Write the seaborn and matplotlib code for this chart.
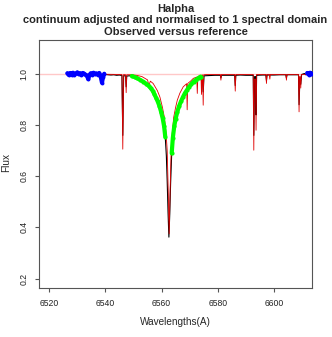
import numpy as np
import pandas as pd
from matplotlib import pyplot as plt
import seaborn as sns

# observed spectrum (black)
obs_wave = [6526.5, 6527.0, 6527.5, 6528.0, 6528.5, 6529.0, 6529.5, 6530.0, 6530.5, 6531.0,
            6531.5, 6532.0, 6532.5, 6533.0, 6533.5, 6533.9, 6534.3, 6534.8, 6535.3, 6535.8,
            6536.3, 6536.8, 6537.3, 6537.8, 6538.3, 6538.8, 6539.2, 6539.6, 6540.2, 6541.0,
            6542.0, 6543.0, 6544.0, 6545.0, 6545.9, 6546.2, 6546.5, 6547.2, 6547.4, 6547.6,
            6548.5, 6549.4, 6550.4, 6551.4, 6552.4, 6553.5, 6554.5, 6555.4, 6556.1, 6556.8,
            6557.4, 6558.0, 6558.6, 6559.2, 6559.8, 6560.4, 6560.9, 6561.3, 6561.7, 6562.0,
            6562.3, 6562.6, 6562.9, 6563.2, 6563.6, 6564.0, 6564.5, 6565.0, 6565.6, 6566.2,
            6566.9, 6567.6, 6568.3, 6569.0, 6569.8, 6570.6, 6571.4, 6572.3, 6573.2, 6573.9,
            6574.5, 6574.8, 6575.1, 6577.0, 6579.0, 6580.9, 6581.1, 6581.3, 6583.0, 6586.0,
            6586.2, 6586.4, 6588.0, 6590.0, 6592.6, 6592.8, 6593.1, 6593.4, 6593.6, 6593.8,
            6596.0, 6597.1, 6597.3, 6597.5, 6600.0, 6602.0, 6604.2, 6604.4, 6604.6, 6606.0,
            6608.7, 6608.9, 6609.2, 6609.5, 6609.8, 6610.8, 6611.3, 6611.8, 6612.3, 6612.8,
            6613.3, 6613.8, 6614.3, 6615.0]
obs_flux = [1.003, 0.996, 1.004, 0.998, 1.005, 0.997, 1.002, 1.006, 0.999, 1.003,
            0.996, 1.004, 1.001, 0.997, 0.993, 0.980, 0.995, 1.003, 0.998, 1.005,
            0.999, 1.002, 0.997, 1.004, 0.992, 0.966, 0.990, 1.001, 0.998, 0.997,
            0.996, 0.997, 0.995, 0.996, 0.994, 0.760, 0.993, 0.993, 0.950, 0.992,
            0.993, 0.992, 0.988, 0.983, 0.977, 0.970, 0.962, 0.954, 0.945, 0.935,
            0.922, 0.908, 0.893, 0.876, 0.853, 0.826, 0.795, 0.755, 0.680, 0.580,
            0.460, 0.362, 0.450, 0.570, 0.690, 0.750, 0.795, 0.825, 0.852, 0.874,
            0.893, 0.910, 0.925, 0.937, 0.950, 0.961, 0.970, 0.978, 0.985, 0.990,
            0.992, 0.930, 0.993, 0.994, 0.995, 0.995, 0.985, 0.995, 0.995, 0.995,
            0.955, 0.995, 0.996, 0.995, 0.995, 0.760, 0.990, 0.990, 0.840, 0.995,
            0.996, 0.996, 0.975, 0.996, 0.996, 0.997, 0.997, 0.985, 0.997, 0.997,
            0.997, 0.880, 0.985, 0.960, 0.998, 1.002, 0.997, 1.004, 0.998, 1.005,
            0.999, 1.003, 0.997, 1.002]

# reference spectrum (red)
ref_wave = [6526.5, 6540.0, 6545.9, 6546.2, 6546.5, 6547.2, 6547.4, 6547.6, 6549.0, 6551.0,
            6553.0, 6555.0, 6555.5, 6556.0, 6557.0, 6558.5, 6559.4, 6560.3, 6561.0, 6561.6,
            6562.0, 6562.35, 6562.7, 6563.05, 6563.4, 6563.8, 6564.3, 6565.0, 6565.6, 6566.5,
            6567.7, 6568.9, 6569.1, 6569.3, 6570.3, 6571.3, 6572.5, 6572.7, 6572.9, 6573.6,
            6574.0, 6574.2, 6574.4, 6574.6, 6574.8, 6575.0, 6576.0, 6580.9, 6581.1, 6581.3,
            6586.0, 6586.2, 6586.4, 6592.6, 6592.8, 6593.0, 6593.4, 6593.6, 6593.8, 6597.1,
            6597.3, 6597.5, 6598.3, 6598.5, 6598.7, 6604.2, 6604.4, 6604.6, 6608.7, 6608.9,
            6609.1, 6609.3, 6609.5, 6609.7, 6616.0]
ref_flux = [1.000, 0.999, 0.998, 0.706, 0.998, 0.997, 0.927, 0.997, 0.997, 0.995,
            0.990, 0.977, 0.955, 0.972, 0.963, 0.935, 0.910, 0.870, 0.830, 0.770,
            0.700, 0.550, 0.375, 0.550, 0.700, 0.770, 0.830, 0.870, 0.898, 0.925,
            0.950, 0.962, 0.860, 0.963, 0.972, 0.983, 0.988, 0.924, 0.990, 0.993,
            0.995, 0.920, 0.996, 0.996, 0.878, 0.997, 0.998, 0.998, 0.976, 0.998,
            0.998, 0.933, 0.998, 0.998, 0.702, 0.980, 0.980, 0.780, 0.998, 0.998,
            0.963, 0.998, 0.998, 0.980, 0.998, 0.998, 0.976, 0.998, 0.998, 0.852,
            0.990, 0.990, 0.945, 0.998, 1.000]

# fitting windows
continuum_windows = [(6526.5, 6539.8), (6611.5, 6616.0)]
line_windows = [(6549.2, 6561.4), (6563.5, 6574.0)]

obs = pd.DataFrame({"wave": obs_wave, "flux": obs_flux})
ref = pd.DataFrame({"wave": ref_wave, "flux": ref_flux})

sns.set_theme(style="white")
plt.rcParams["font.family"] = ["Liberation Sans", "DejaVu Sans"]

fig = plt.figure(figsize=(3.32, 3.37), dpi=100)
ax = fig.add_axes([39 / 332, 1 - 288 / 337, 273 / 332, 248 / 337])

ax.axhline(1.0, color="#ffc8c8", lw=1.0, zorder=1)
sns.lineplot(data=obs, x="wave", y="flux", sort=False, estimator=None,
             color="black", lw=0.8, ax=ax, zorder=2)
sns.lineplot(data=ref, x="wave", y="flux", sort=False, estimator=None,
             color="#e00000", lw=0.6, ax=ax, zorder=3)

for lo, hi in continuum_windows:
    seg = obs[(obs.wave >= lo) & (obs.wave <= hi)]
    sns.lineplot(data=seg, x="wave", y="flux", sort=False, estimator=None,
                 color="#0000ff", lw=3.0, marker="o", markersize=2.8,
                 markeredgewidth=0, ax=ax, zorder=4)
for lo, hi in line_windows:
    seg = obs[(obs.wave >= lo) & (obs.wave <= hi)]
    sns.lineplot(data=seg, x="wave", y="flux", sort=False, estimator=None,
                 color="#00ff00", lw=3.0, marker="o", markersize=3.0,
                 markeredgewidth=0, ax=ax, zorder=4)

ax.set_xlim(6516.4, 6613.5)
ax.set_ylim(0.163, 1.133)
ax.set_xticks([6520, 6540, 6560, 6580, 6600])
ax.set_yticks([0.2, 0.4, 0.6, 0.8, 1.0])
ax.set_yticklabels(["0.2", "0.4", "0.6", "0.8", "1.0"], rotation=90, va="center")
ax.set_xlabel("")
ax.set_ylabel("")
for s in ax.spines.values():
    s.set_color("#555555")
    s.set_linewidth(0.8)
ax.tick_params(axis="both", direction="out", length=3, width=0.8, color="#555555",
               labelsize=6.2, labelcolor="#222222", left=True, bottom=True)
ax.tick_params(axis="x", pad=5)
ax.tick_params(axis="y", pad=4.5)

cx = 175.5 / 332
fig.text(cx, 1 - 8.5 / 337, "Halpha", ha="center", va="center", fontsize=8, fontweight="bold")
fig.text(cx, 1 - 20 / 337, "continuum adjusted and normalised to 1 spectral domain",
         ha="center", va="center", fontsize=8, fontweight="bold")
fig.text(cx, 1 - 32 / 337, "Observed versus reference", ha="center", va="center",
         fontsize=8, fontweight="bold")
fig.text(cx, 1 - 322 / 337, "Wavelengths(A)", ha="center", va="center", fontsize=7.2)
fig.text(6 / 332, 1 - 163 / 337, "Flux", ha="center", va="center", fontsize=7.2, rotation=90)

plt.savefig("out.png", dpi=100)
